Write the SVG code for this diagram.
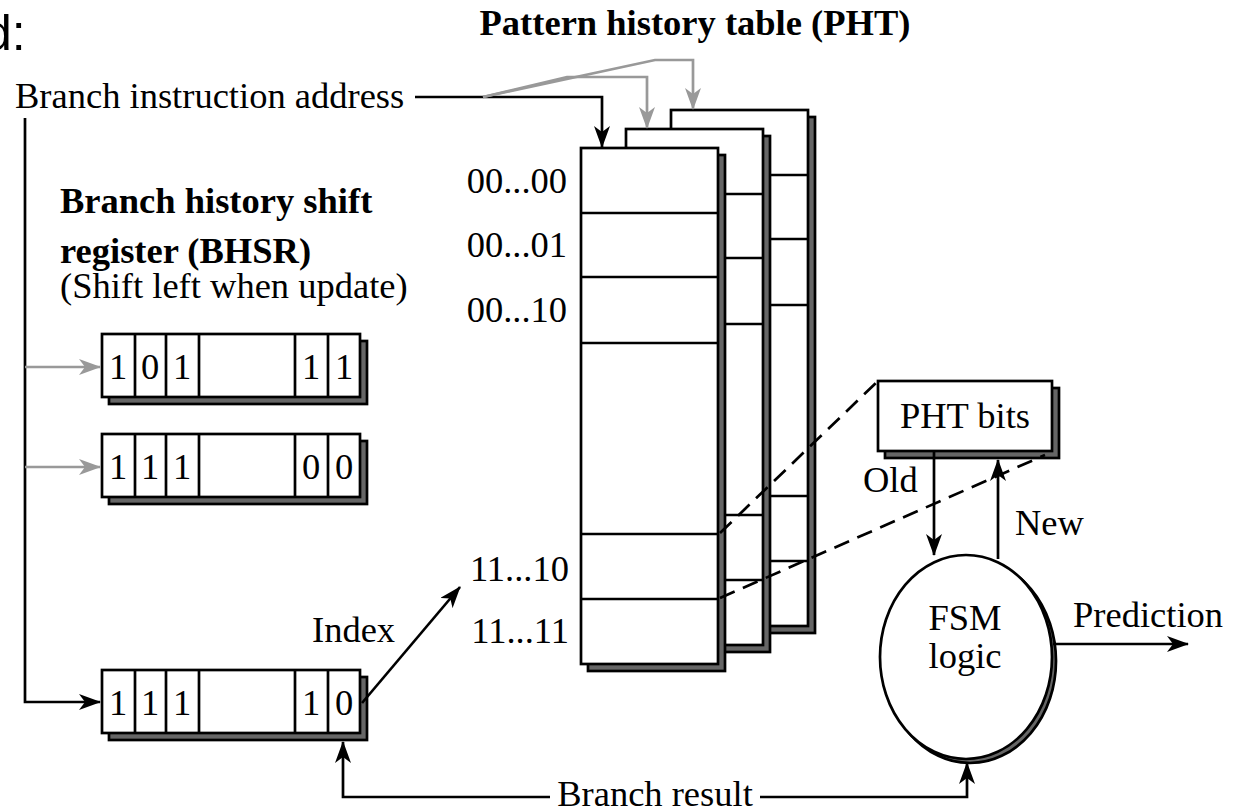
<svg xmlns="http://www.w3.org/2000/svg" width="1234" height="812" viewBox="0 0 1234 812">
<defs>
<style>
.t{font-family:"Liberation Serif","Times New Roman",serif;font-size:36.5px;fill:#000}
.b{font-weight:bold}
.box{fill:#fff;stroke:#000;stroke-width:2.7}
.sh{fill:#666;stroke:#000;stroke-width:2.7}
.ln{fill:none;stroke:#000;stroke-width:2.7}
.gl{fill:none;stroke:#999;stroke-width:2.7}
.dl{fill:none;stroke:#000;stroke-width:2.7;stroke-dasharray:16 9}
</style>
<marker id="ah" markerWidth="22" markerHeight="16" refX="21" refY="8" orient="auto" markerUnits="userSpaceOnUse"><path d="M0,0 L22,8 L0,16 L6,8 z" fill="#000"/></marker>
<marker id="ahg" markerWidth="22" markerHeight="16" refX="21" refY="8" orient="auto" markerUnits="userSpaceOnUse"><path d="M0,0 L22,8 L0,16 L6,8 z" fill="#999"/></marker>
<g id="tbl">
<rect class="sh" x="7" y="7" width="137" height="516"/>
<rect class="box" x="0" y="0" width="137" height="516"/>
<path class="ln" d="M0,65H137M0,129H137M0,195H137M0,386H137M0,451H137"/>
</g>
<g id="reg">
<rect class="sh" x="7" y="7" width="258" height="63"/>
<rect class="box" x="0" y="0" width="258" height="63"/>
<path class="ln" d="M33,0V63M64,0V63M97,0V63M193,0V63M226,0V63"/>
</g>
</defs>
<rect width="1234" height="812" fill="#fff"/>
<text x="-16" y="50" style="font-family:'Liberation Sans',Arial,sans-serif;font-size:50px">d:</text>
<text class="t b" x="695" y="35" text-anchor="middle">Pattern history table (PHT)</text>
<text class="t" x="15" y="108">Branch instruction address</text>
<g id="pht-back"><use href="#tbl" x="671" y="110"/></g>
<g id="pht-mid"><use href="#tbl" x="626" y="129"/></g>
<g id="pht-front"><use href="#tbl" x="581" y="148"/>
<g class="t" text-anchor="end">
<text x="567" y="193">00...00</text>
<text x="567" y="257">00...01</text>
<text x="567" y="322">00...10</text>
<text x="569" y="581">11...10</text>
<text x="569" y="643">11...11</text>
</g></g>
<g id="bhsr-label">
<text class="t b" x="60" y="213">Branch history shift</text>
<text class="t b" x="60" y="263">register (BHSR)</text>
<text class="t" x="60" y="298">(Shift left when update)</text>
</g>
<g id="reg1"><use href="#reg" x="102" y="334"/>
<g class="t" text-anchor="middle"><text x="118" y="379">1</text><text x="150" y="379">0</text><text x="182" y="379">1</text><text x="311" y="379">1</text><text x="344" y="379">1</text></g></g>
<g id="reg2"><use href="#reg" x="102" y="434"/>
<g class="t" text-anchor="middle"><text x="118" y="479">1</text><text x="150" y="479">1</text><text x="182" y="479">1</text><text x="311" y="479">0</text><text x="344" y="479">0</text></g></g>
<g id="reg3"><use href="#reg" x="102" y="670"/>
<g class="t" text-anchor="middle"><text x="118" y="715">1</text><text x="150" y="715">1</text><text x="182" y="715">1</text><text x="311" y="715">1</text><text x="344" y="715">0</text></g></g>
<g id="pht-bits">
<rect class="sh" x="885" y="388" width="174" height="70"/>
<rect class="box" x="878" y="381" width="174" height="70"/>
<text class="t" x="965" y="428" text-anchor="middle">PHT bits</text>
</g>
<g id="fsm">
<ellipse cx="970" cy="661" rx="86" ry="102" class="sh"/>
<ellipse cx="966" cy="657" rx="86" ry="102" class="box"/>
<text class="t" x="965" y="630" text-anchor="middle">FSM</text>
<text class="t" x="965" y="668" text-anchor="middle">logic</text>
</g>
<g id="connectors">
<path class="ln" d="M415,97H602V147" marker-end="url(#ah)"/>
<path class="gl" d="M483,97L567,77H647V128" marker-end="url(#ahg)"/>
<path class="gl" d="M483,97L655,60H693V109" marker-end="url(#ahg)"/>
<path class="ln" d="M25,118V702H100" marker-end="url(#ah)"/>
<path class="gl" d="M25,367H100" marker-end="url(#ahg)"/>
<path class="gl" d="M25,467H100" marker-end="url(#ahg)"/>
<path class="ln" d="M362,703L460,587" marker-end="url(#ah)"/>
<path class="ln" d="M550,797H343V742" marker-end="url(#ah)"/>
<path class="ln" d="M760,797H967V763" marker-end="url(#ah)"/>
<path class="ln" d="M934,451V555" marker-end="url(#ah)"/>
<path class="ln" d="M998,559V460" marker-end="url(#ah)"/>
<path class="ln" d="M1053,644H1188" marker-end="url(#ah)"/>
<path class="dl" d="M720,533L878,381"/>
<path class="dl" d="M720,598L1045,455"/>
<text class="t" x="312" y="642">Index</text>
<text class="t" x="863" y="492">Old</text>
<text class="t" x="1015" y="535">New</text>
<text class="t" x="1073" y="627">Prediction</text>
<text class="t" x="655" y="806" text-anchor="middle">Branch result</text>
</g>
</svg>
